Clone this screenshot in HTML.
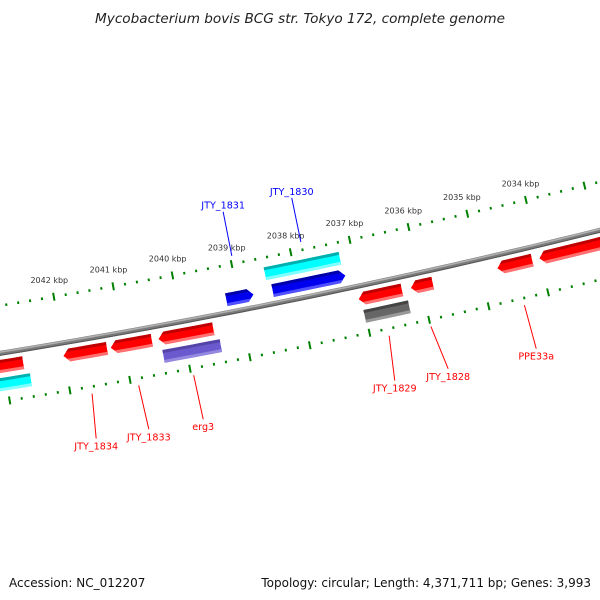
<!DOCTYPE html>
<html><head><meta charset="utf-8"><style>
html,body{margin:0;padding:0;background:#fff;}
svg{display:block;font-family:"DejaVu Sans","Liberation Sans",sans-serif;}
</style></head><body>
<svg id="chart" width="600" height="600" viewBox="0 0 600 600" xmlns="http://www.w3.org/2000/svg">
<rect width="600" height="600" fill="#fff"/>
<text x="300" y="23" text-anchor="middle" font-size="13.6" font-style="italic" fill="#222">Mycobacterium bovis BCG str. Tokyo 172, complete genome</text>
<g id="map"></g>
<text x="9" y="587" font-size="12" fill="#111">Accession: NC_012207</text>
<text x="591" y="587" text-anchor="end" font-size="12" fill="#111">Topology: circular; Length: 4,371,711 bp; Genes: 3,993</text>
</svg>
<script>
// ---- data ----
var tickLabels = [2034, 2035, 2036, 2037, 2038, 2039, 2040, 2041, 2042];
var tickStart = 2031.0, tickEnd = 2044.0;
var geneNames  = ["gene-left-red","JTY_1834","JTY_1833","erg3","JTY_1829","JTY_1828","PPE33a","gene-right-red","JTY_1831","JTY_1830","gene-cyan-upper","gene-cyan-left","gene-erg3-feature","gene-1829-feature"];
var geneStart  = [2043.55, 2042.01, 2041.22, 2040.42, 2037.06, 2036.18, 2034.72, 2034.01, 2039.20, 2038.42, 2038.49, 2043.20, 2040.39, 2037.02];
var geneEnd    = [2042.68, 2041.28, 2040.53, 2039.50, 2036.33, 2035.81, 2034.13, 2032.40, 2038.74, 2037.19, 2037.22, 2042.60, 2039.43, 2036.27];
var geneStrand = [-1, -1, -1, -1, -1, -1, -1, -1, 1, 1, 0, 0, 0, 0];
var geneTrack  = [1, 1, 1, 1, 1, 1, 1, 1, -1, -1, -2, 2, 2, 2];
var geneColor  = ["red","red","red","red","red","red","red","red","blue","blue","cyan","cyan","purple","gray"];
var labelText   = ["JTY_1834","JTY_1833","erg3","JTY_1829","JTY_1828","PPE33a","JTY_1831","JTY_1830"];
var labelAnchor = [2041.65, 2040.875, 2039.96, 2036.695, 2035.995, 2034.425, 2038.97, 2037.80];
var labelPos    = [2041.71, 2040.84, 2039.94, 2036.76, 2035.87, 2034.40, 2038.97, 2037.80];
var labelSide   = [1, 1, 1, 1, 1, 1, -1, -1];
var labelColor  = ["red","red","red","red","red","red","blue","blue"];

// ---- geometry ----
var NS = "http://www.w3.org/2000/svg";
var R = 7400, CX = -1186, CY = -6951, PHI0 = 0.2022, K = 0.008194;
function P(kbp, off) {
  var r = R + off, phi = PHI0 + (2038 - kbp) * K;
  return [CX + r * Math.sin(phi), CY + r * Math.cos(phi)];
}
function pts(list){ return list.map(function(p){return p[0].toFixed(2)+","+p[1].toFixed(2);}).join(" "); }
var map = document.getElementById("map");
function mk(tag, attrs, parent){
  var e = document.createElementNS(NS, tag);
  for (var k in attrs) e.setAttribute(k, attrs[k]);
  (parent || map).appendChild(e);
  return e;
}
function arcPts(a, b, off, n){
  var out = [];
  for (var i = 0; i <= n; i++) out.push(P(a + (b - a) * i / n, off));
  return out;
}

// backbone
var bb = arcPts(2045, 2031, 0, 60);
var b1 = mk("polyline", {points: pts(bb), fill: "none", stroke: "#7a7a7a", "stroke-width": 5});


var b2 = mk("polyline", {points: pts(arcPts(2045, 2031, -1.2, 60)), fill: "none", stroke: "#b0b0b0", "stroke-width": 1.6});


var b3 = mk("polyline", {points: pts(arcPts(2045, 2031, 2, 60)), fill: "none", stroke: "#555", "stroke-width": 1});



// ticks
var nSteps = Math.round((tickEnd - tickStart) / 0.2);
[-47, 48].forEach(function(base){
  for (var i = 0; i <= nSteps; i++) {
    var kb = tickStart + i * 0.2;
    var major = Math.abs(kb - Math.round(kb)) < 1e-6;
    var h = major ? 4 : 1.3;
    var p1 = P(kb, base - h), p2 = P(kb, base + h);
    var t = mk("line", {x1: p1[0], y1: p1[1], x2: p2[0], y2: p2[1], stroke: "#008000", "stroke-width": 2});
    
    
  }
});
tickLabels.forEach(function(kb){
  var p = P(kb, -62);
  var t = mk("text", {x: p[0] - 2, y: p[1] + 1, "text-anchor": "middle", "font-size": 8, fill: "#333"});
  t.textContent = kb + " kbp";
  
  
});

// genes
var palette = {
  red:    ["#ff0000", "#c00000", "#ff7070"],
  blue:   ["#0000ee", "#0000a8", "#5050ff"],
  cyan:   ["#00ffff", "#00b0b0", "#80ffff"],
  purple: ["#6a5acd", "#5444a8", "#9488e0"],
  gray:   ["#666666", "#444444", "#999999"]
};
var defs = mk("defs", {});
for (var g = 0; g < geneNames.length; g++) {
  var o = geneTrack[g] > 0 ? (geneTrack[g] === 1 ? 13 : 31) : (geneTrack[g] === -1 ? -13 : -31);
  var hw = 6.5, tip = 0.1;
  var s = geneStart[g], e = geneEnd[g], shape = [];
  if (geneStrand[g] === 1) {
    shape = arcPts(s, e + tip, o - hw, 6).concat([P(e, o)]).concat(arcPts(e + tip, s, o + hw, 6));
  } else if (geneStrand[g] === -1) {
    shape = [P(s, o)].concat(arcPts(s - tip, e, o - hw, 6)).concat(arcPts(e, s - tip, o + hw, 6));
  } else {
    shape = arcPts(s, e, o - hw, 6).concat(arcPts(e, s, o + hw, 6));
  }
  var cid = "clip" + g;
  var cp = mk("clipPath", {id: cid}, defs);
  mk("polygon", {points: pts(shape)}, cp);
  var grp = mk("g", {"clip-path": "url(#" + cid + ")"});
  
  
  var col = palette[geneColor[g]];
  mk("polygon", {points: pts(shape), fill: col[0]}, grp);
  mk("polygon", {points: pts(arcPts(s + 0.2, e - 0.2, o - hw - 1, 6).concat(arcPts(e - 0.2, s + 0.2, o - hw + 3, 6))), fill: col[1]}, grp);
  mk("polygon", {points: pts(arcPts(s + 0.2, e - 0.2, o + hw - 3, 6).concat(arcPts(e - 0.2, s + 0.2, o + hw + 1, 6))), fill: col[2]}, grp);
}

// labels
for (var l = 0; l < labelText.length; l++) {
  var sd = labelSide[l];
  var a = P(labelAnchor[l], sd * 55), b = P(labelPos[l], sd * 100);
  var ln = mk("line", {x1: a[0], y1: a[1], x2: b[0], y2: b[1], stroke: labelColor[l], "stroke-width": 1});
  
  
  var ty = sd > 0 ? b[1] + 11 : b[1] - 3;
  var tx = mk("text", {x: b[0], y: ty, "text-anchor": "middle", "font-size": 9.6, fill: labelColor[l]});
  tx.textContent = labelText[l];
  
  
}
</script>
</body></html>
